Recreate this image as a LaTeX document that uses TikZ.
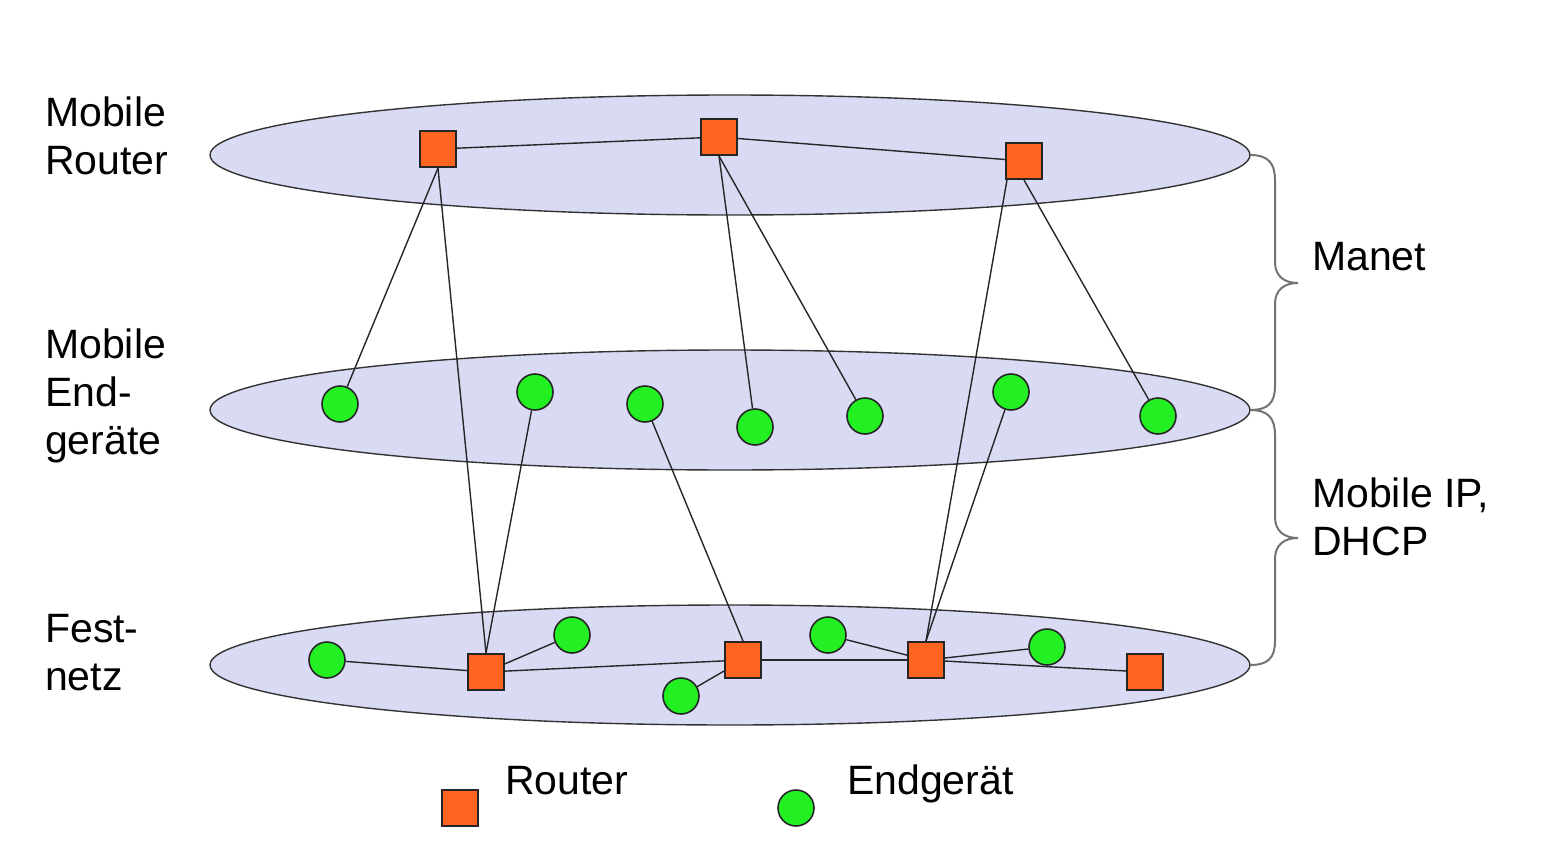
\documentclass[tikz,border=0pt]{standalone}
\usepackage{fontspec}
\setmainfont{Liberation Sans}
\begin{document}
\begin{tikzpicture}[x=1pt,y=-1pt,
  layer/.style={draw=black!80, line width=1.4pt, fill=lav},
  router/.style={draw=black!85, line width=2pt, fill=rorange, minimum size=36pt, inner sep=0pt},
  endg/.style={circle, draw=black!85, line width=1.6pt, fill=egreen, minimum size=36pt, inner sep=0pt},
  link/.style={draw=black!85, line width=1.4pt},
  brace/.style={draw=black!55, line width=2pt},
  lbl/.style={font=\fontsize{41}{48}\selectfont, anchor=base west, align=left, inner sep=0pt}
]
\definecolor{lav}{HTML}{D9DBF5}
\definecolor{rorange}{HTML}{FF6420}
\definecolor{egreen}{HTML}{22F022}
\useasboundingbox (0,0) rectangle (1548,862);

% layers
\draw[layer] (730,155) ellipse [x radius=520, y radius=60];
\draw[layer] (730,410) ellipse [x radius=520, y radius=60];
\draw[layer] (730,665) ellipse [x radius=520, y radius=60];

% braces
\draw[brace] (1250,155) .. controls (1268,155) and (1275,163) .. (1275,180)
  -- (1275,262) .. controls (1275,276) and (1284,283) .. (1298,283)
  .. controls (1284,283) and (1275,290) .. (1275,304)
  -- (1275,386) .. controls (1275,403) and (1268,410) .. (1250,410);
\draw[brace] (1250,410) .. controls (1268,410) and (1275,418) .. (1275,435)
  -- (1275,517) .. controls (1275,531) and (1284,538) .. (1298,538)
  .. controls (1284,538) and (1275,545) .. (1275,559)
  -- (1275,641) .. controls (1275,658) and (1268,665) .. (1250,665);

% top routers
\node[router] (r1) at (438,149) {};
\node[router] (r2) at (719,137) {};
\node[router] (r3) at (1024,161) {};

% mobile end devices
\node[endg] (m1) at (340,404) {};
\node[endg] (m2) at (535,392) {};
\node[endg] (m3) at (645,404) {};
\node[endg] (m4) at (755,427) {};
\node[endg] (m5) at (865,416) {};
\node[endg] (m6) at (1011,392) {};
\node[endg] (m7) at (1158,416) {};

% fixed network
\node[router] (b1) at (486,672) {};
\node[router] (b2) at (743,660) {};
\node[router] (b3) at (926,660) {};
\node[router] (b4) at (1145,672) {};
\node[endg] (f1) at (327,660) {};
\node[endg] (f2) at (572,635) {};
\node[endg] (f3) at (681,696) {};
\node[endg] (f4) at (828,635) {};
\node[endg] (f5) at (1047,647) {};

% links
\path[link] (r1) -- (r2);
\path[link] (r2) -- (r3);
\path[link] (r1.south) -- (m1);
\path[link] (r1.south) -- (b1.north);
\path[link] (r2.south) -- (m4);
\path[link] (r2.south) -- (m5);
\path[link] (r3.south west) ++(2,0) coordinate (r3s) -- (b3.north);
\path[link] (r3.south) -- (m7);
\path[link] (m2) -- (b1.north);
\path[link] (m3) -- (b2.north);
\path[link] (m6) -- (b3.north);
\path[link] (f1) -- (b1);
\path[link] (b1) -- (f2);
\path[link] (b1) -- (b2);
\path[link] (b2) -- (f3);
\path[link] (b2) -- (b3);
\path[link] (f4) -- (b3);
\path[link] (b3) -- (f5);
\path[link] (b3) -- (b4);

% redraw routers on top of links
\node[router] at (r1) {};
\node[router] at (r2) {};
\node[router] at (r3) {};
\node[router] at (b1) {};
\node[router] at (b2) {};
\node[router] at (b3) {};
\node[router] at (b4) {};

% legend
\node[router] (lr) at (460,808) {};
\node[endg] (le) at (796,808) {};
\node[lbl] (tlr) at (505,794) {Router};
\node[lbl] (tle) at (847,794) {Endgerät};

% labels (anchor = baseline of last line)
\node[lbl] (t1) at (45,174) {Mobile\\Router};
\node[lbl] (t2) at (45,454) {Mobile\\End-\\geräte};
\node[lbl] (t3) at (45,690) {Fest-\\netz};
\node[lbl] (t4) at (1312,270) {Manet};
\node[lbl] (t5) at (1312,555) {Mobile IP,\\DHCP};
\end{tikzpicture}
\end{document}
